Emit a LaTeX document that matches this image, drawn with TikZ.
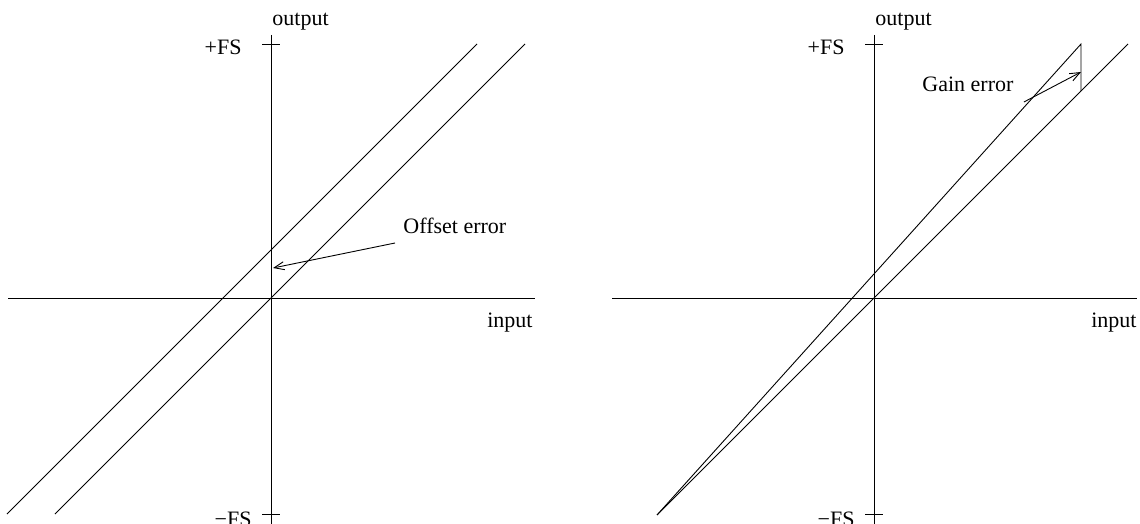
\documentclass[tikz,border=0pt]{standalone}
\usepackage{fontspec}
\setmainfont{Liberation Serif}
\usetikzlibrary{arrows.meta}
\begin{document}
\begin{tikzpicture}[x=1pt,y=-1pt,line width=0.9pt,
  lbl/.style={inner sep=0pt,font=\fontsize{22}{26}\selectfont},
  pointer/.style={-{Straight Barb[length=10pt,width=8pt]}}]
\useasboundingbox (0,0) rectangle (1140,524);
% ---------- left panel ----------
\coordinate (LvT) at (271,35);
\coordinate (LvB) at (271,526);
\coordinate (LhL) at (8,298);
\coordinate (LhR) at (535,298);
\coordinate (LtpL) at (262,44);
\coordinate (LtpR) at (280,44);
\coordinate (LtmL) at (262,514);
\coordinate (LtmR) at (280,514);
\coordinate (LidB) at (55,514);
\coordinate (LidT) at (525,44);
\coordinate (LofB) at (7,514);
\coordinate (LofT) at (477,44);
\coordinate (LofTip) at (273,268);
\draw (LvT) -- (LvB);
\draw (LhL) -- (LhR);
\draw (LtpL) -- (LtpR);
\draw (LtmL) -- (LtmR);
\draw (LidB) -- (LidT);
\draw (LofB) -- (LofT);
\node[lbl,anchor=base west] (Lout) at (272,26) {output};
\node[lbl,anchor=base east] (Lpfs) at (242,55) {+FS};
\node[lbl,anchor=base east] (Lmfs) at (252,526) {−FS};
\node[lbl,anchor=base east] (Lin) at (533,327) {input};
\node[lbl,anchor=base west] (Loff) at (403,233) {Offset error};
\draw[pointer] ([xshift=-8pt,yshift=-10pt]Loff.base west) -- (LofTip);
% ---------- right panel ----------
\coordinate (RvT) at (874,35);
\coordinate (RvB) at (874,526);
\coordinate (RhL) at (612,298);
\coordinate (RhR) at (1137,298);
\coordinate (RtpL) at (865,44);
\coordinate (RtpR) at (883,44);
\coordinate (RtmL) at (865,514);
\coordinate (RtmR) at (883,514);
\coordinate (RB) at (657,515);
\coordinate (RidT) at (1128,44);
\coordinate (RgT) at (1081,44);
\coordinate (RgB) at (1081,91);
\coordinate (RgTip) at (1081,72);
\draw (RvT) -- (RvB);
\draw (RhL) -- (RhR);
\draw (RtpL) -- (RtpR);
\draw (RtmL) -- (RtmR);
\draw (RB) -- (RidT);
\draw (RB) -- (RgT) -- (RgB);
\node[lbl,anchor=base west] (Rout) at (875,26) {output};
\node[lbl,anchor=base east] (Rpfs) at (845,55) {+FS};
\node[lbl,anchor=base east] (Rmfs) at (855,526) {−FS};
\node[lbl,anchor=base east] (Rin) at (1137,327) {input};
\node[lbl,anchor=base west] (Rgain) at (922,92) {Gain error};
\draw[pointer] ([xshift=10pt,yshift=-10pt]Rgain.base east) -- (RgTip);
\end{tikzpicture}
\end{document}
